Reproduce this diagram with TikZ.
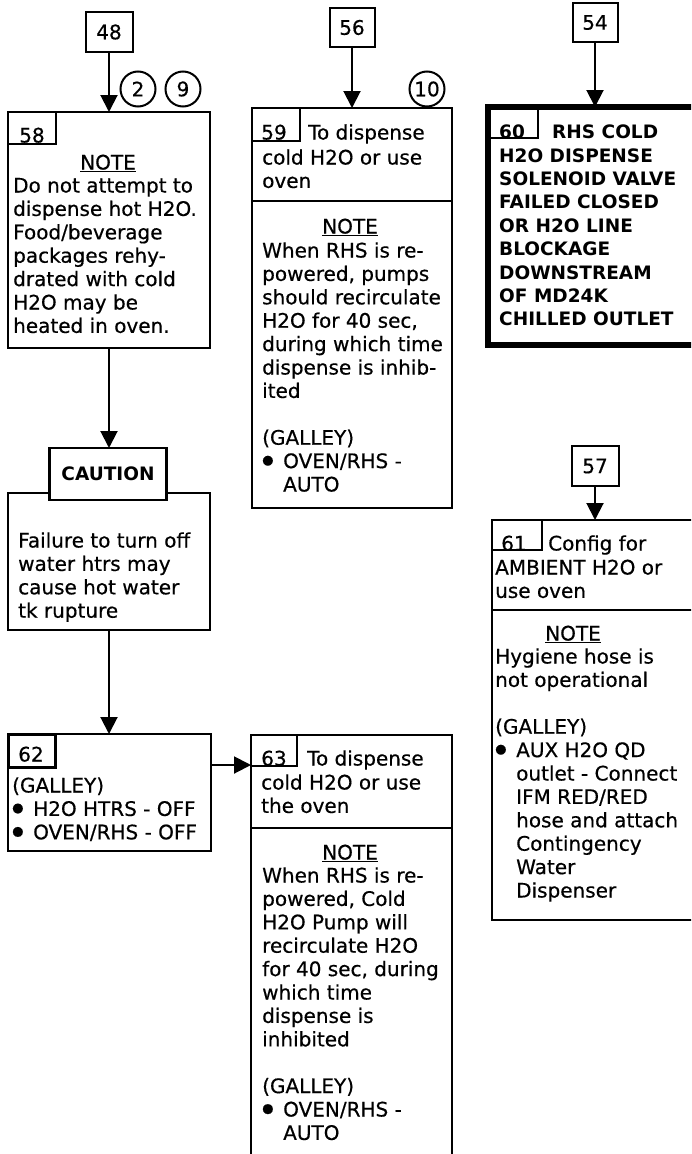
\documentclass[tikz,border=0pt]{standalone}
\usepackage{fontspec}
\setmainfont{DejaVu Sans}[UprightFeatures={FakeBold=0.5}]
\usetikzlibrary{arrows.meta}
\newcommand\bulletmark{\makebox[21pt][l]{\raisebox{4pt}{\fontsize{13}{13}\selectfont ●}}}
\newcommand\contind{\hspace*{21pt}}
\newcommand\firststrut{\rule{0pt}{15.5pt}}
\begin{document}
\begin{tikzpicture}[x=1pt,y=-1pt,
  box/.style={draw, line width=2pt, fill=white, inner sep=0pt, outer sep=0pt, anchor=north west},
  labbox/.style={draw, line width=2pt, inner sep=0pt, outer sep=0pt, anchor=north west},
  sbox/.style={draw, line width=2pt, fill=white, inner sep=0pt, outer sep=0pt, anchor=north, font=\fontsize{20}{22}\selectfont},
  txt/.style={inner sep=0pt, anchor=north west, align=left, font=\fontsize{20}{23.4}\selectfont},
  btxt/.style={inner sep=0pt, anchor=north west, align=left, font=\fontsize{18.5}{23.4}\selectfont\bfseries},
  ctxt/.style={inner sep=0pt, anchor=north, font=\fontsize{20}{23.4}\selectfont},
  circ/.style={draw, circle, line width=2pt, minimum size=35pt, inner sep=0pt, font=\fontsize{20}{22}\selectfont},
  arr/.style={line width=2pt, -{Triangle[width=17pt,length=17pt]}}
]
\useasboundingbox (0,0) rectangle (691,1154);
\fill[white] (0,0) rectangle (691,1154);
\clip (0,0) rectangle (691,1154);

% ---------- boxes ----------
\node[box, minimum width=202pt, minimum height=236pt] (b58) at (8,112) {};
\node[box, minimum width=200pt, minimum height=400pt] (b59) at (252,108) {};
\node[box, line width=6pt, minimum width=208pt, minimum height=238pt] (b60) at (488,107) {};
\node[box, minimum width=210pt, minimum height=400pt] (b61) at (492,520) {};
\node[box, minimum width=202pt, minimum height=137pt] (cau) at (8,493) {};
\node[box, minimum width=203pt, minimum height=117pt] (b62) at (8,734) {};
\node[box, minimum width=201pt, minimum height=450pt] (b63) at (251,735) {};
\node[draw, line width=2.5pt, fill=white, inner sep=0pt, outer sep=0pt,
      minimum width=117pt, minimum height=52pt,
      font=\fontsize{18.5}{22}\selectfont\bfseries] (cauh) at (108,474) {CAUTION};

% small reference boxes
\node[sbox, minimum width=47pt, minimum height=40pt] (b48) at (109,12) {48};
\node[sbox, minimum width=45pt, minimum height=39pt] (b56) at (352,8) {56};
\node[sbox, minimum width=45pt, minimum height=39pt] (b54) at (595,3) {54};
\node[sbox, minimum width=47pt, minimum height=40pt] (b57) at (595,446) {57};

% circles
\node[circ] (c2) at (138,89) {2};
\node[circ] (c9) at (183,89) {9};
\node[circ] (c10) at (427,89) {10};

% label boxes
\node[labbox, minimum width=48pt, minimum height=32pt] (l58) at (8,112) {};
\node[labbox, minimum width=48pt, minimum height=33pt] (l59) at (252,108) {};
\node[labbox, minimum width=50pt, minimum height=31pt] (l60) at (488,107) {};
\node[labbox, minimum width=50pt, minimum height=30pt] (l61) at (492,520) {};
\node[labbox, line width=3pt, minimum width=47pt, minimum height=33pt] (l62) at (8,734) {};
\node[labbox, minimum width=46pt, minimum height=31pt] (l63) at (251,735) {};

% dividers
\draw[line width=2pt] (b59.west |- 0,201) -- (b59.east |- 0,201);
\draw[line width=2pt] (b63.west |- 0,828) -- (b63.east |- 0,828);
\draw[line width=2pt] (b61.west |- 0,610) -- (b61.east |- 0,610);

% label numbers
\node[ctxt] (n58) at (32,126.8) {\firststrut 58};
\node[ctxt] (n59) at (274,123.8) {\firststrut 59};
\node[ctxt, font=\fontsize{18.5}{23.4}\selectfont\bfseries] (n60) at (512,122.3) {\firststrut 60};
\node[ctxt] (n61) at (514,534.8) {\firststrut 61};
\node[ctxt] (n62) at (31,745.8) {\firststrut 62};
\node[ctxt] (n63) at (274,749.8) {\firststrut 63};

% ---------- texts ----------
\node[ctxt] (note58) at (108,153.8) {\firststrut\underline{NOTE}};
\node[txt] (t58) at (13,176.8) {\firststrut Do not attempt to\\dispense hot H2O.\\Food/beverage\\packages rehy-\\drated with cold\\H2O may be\\heated in oven.};

\node[txt] (tcau) at (18,531.8) {\firststrut Failure to turn off\\water htrs may\\cause hot water\\tk rupture};

\node[txt] (t62) at (12,776.8) {\firststrut (GALLEY)\\\bulletmark H2O HTRS - OFF\\\bulletmark OVEN/RHS - OFF};

\node[txt] (h59a) at (308,123.8) {\firststrut To dispense};
\node[txt] (h59b) at (262,148.8) {\firststrut cold H2O or use\\oven};
\node[ctxt] (note59) at (350,217.8) {\firststrut\underline{NOTE}};
\node[txt] (t59) at (262,241.8) {\firststrut When RHS is re-\\powered, pumps\\should recirculate\\H2O for 40 sec,\\during which time\\dispense is inhib-\\ited\\[23.4pt](GALLEY)\\\bulletmark OVEN/RHS -\\\contind AUTO};

\node[btxt] (h60a) at (552,122.3) {\firststrut RHS COLD};
\node[btxt] (h60b) at (499,146.3) {\firststrut H2O DISPENSE\\SOLENOID VALVE\\FAILED CLOSED\\OR H2O LINE\\BLOCKAGE\\DOWNSTREAM\\OF MD24K\\CHILLED OUTLET};

\node[txt] (h61a) at (548,534.8) {\firststrut Config for};
\node[txt] (h61b) at (495,558.8) {\firststrut AMBIENT H2O or\\use oven};
\node[ctxt] (note61) at (573,624.8) {\firststrut\underline{NOTE}};
\node[txt] (t61) at (495,647.8) {\firststrut Hygiene hose is\\not operational\\[23.4pt](GALLEY)\\\bulletmark AUX H2O QD\\\contind outlet - Connect\\\contind IFM RED/RED\\\contind hose and attach\\\contind Contingency\\\contind Water\\\contind Dispenser};

\node[txt] (h63a) at (307,749.8) {\firststrut To dispense};
\node[txt] (h63b) at (261,773.8) {\firststrut cold H2O or use\\the oven};
\node[ctxt] (note63) at (350,843.8) {\firststrut\underline{NOTE}};
\node[txt] (t63) at (262,866.8) {\firststrut When RHS is re-\\powered, Cold\\H2O Pump will\\recirculate H2O\\for 40 sec, during\\which time\\dispense is\\inhibited\\[23.4pt](GALLEY)\\\bulletmark OVEN/RHS -\\\contind AUTO};

% ---------- connectors ----------
\draw[arr] (b48.south) -- (b48.south |- b58.north);
\draw[arr] (b56.south) -- (b56.south |- b59.north);
\draw[arr] (b54.south) -- (b54.south |- b60.north);
\draw[arr] (b57.south) -- (b57.south |- b61.north);
\draw[arr] (b58.south) -- (b58.south |- cauh.north);
\draw[arr] (cau.south -| b58.south) -- (b58.south |- b62.north);
\draw[arr] (b62.east |- 0,765) -- (b63.west |- 0,765);
\end{tikzpicture}
\end{document}
